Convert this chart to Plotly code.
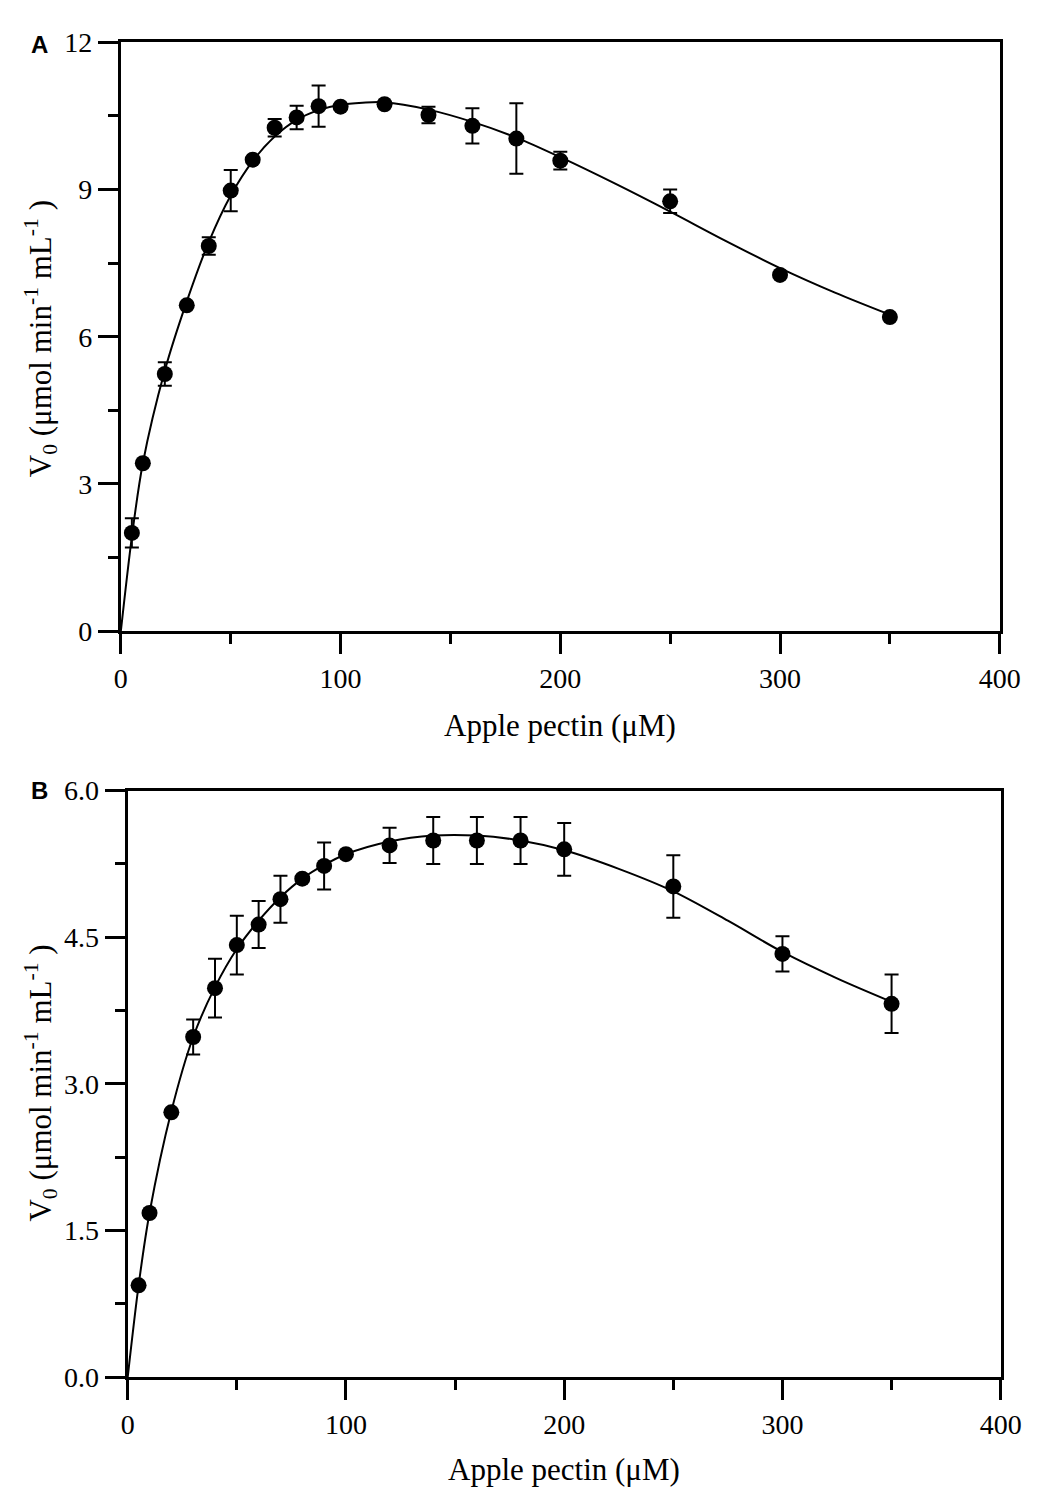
import plotly.graph_objects as go

# ---------------- data ----------------
conc = [5, 10, 20, 30, 40, 50, 60, 70, 80, 90, 100, 120, 140, 160, 180, 200, 250, 300, 350]

v_a = [2.00, 3.42, 5.24, 6.64, 7.85, 8.98, 9.61, 10.26, 10.47, 10.70, 10.69, 10.74,
       10.52, 10.30, 10.04, 9.59, 8.76, 7.26, 6.40]
sd_a = [0.30, 0.0, 0.24, 0.0, 0.18, 0.42, 0.0, 0.18, 0.24, 0.42, 0.0, 0.0,
        0.17, 0.36, 0.72, 0.18, 0.24, 0.0, 0.0]

v_b = [0.94, 1.68, 2.71, 3.48, 3.98, 4.42, 4.63, 4.89, 5.10, 5.23, 5.35, 5.44,
       5.49, 5.49, 5.49, 5.40, 5.02, 4.33, 3.82]
sd_b = [0.0, 0.0, 0.0, 0.18, 0.30, 0.30, 0.24, 0.24, 0.0, 0.24, 0.0, 0.18,
        0.24, 0.24, 0.24, 0.27, 0.32, 0.18, 0.30]

# fitted (non-linear regression) curves
fit_x_a = [0, 5, 10, 20, 30, 40, 50, 60, 70, 80, 90, 100, 110, 120, 140, 160, 180, 200,
           225, 250, 275, 300, 325, 350]
fit_y_a = [0, 1.92, 3.42, 5.31, 6.72, 7.93, 8.88, 9.58, 10.08, 10.42, 10.62, 10.73, 10.77,
           10.78, 10.63, 10.38, 10.06, 9.66, 9.12, 8.55, 7.96, 7.40, 6.90, 6.45]
fit_x_b = [0, 5, 10, 20, 30, 40, 50, 60, 70, 80, 90, 100, 120, 140, 160, 180, 200,
           225, 250, 275, 300, 325, 350]
fit_y_b = [0, 0.94, 1.68, 2.72, 3.48, 3.99, 4.38, 4.67, 4.91, 5.10, 5.24, 5.35, 5.48,
           5.54, 5.54, 5.49, 5.39, 5.20, 4.97, 4.67, 4.35, 4.08, 3.84]

x_ticks = [0, 100, 200, 300, 400]
y_ticks_a = [0, 3, 6, 9, 12]
y_ticks_a_text = ["0", "3", "6", "9", "12"]
y_ticks_b = [0, 1.5, 3.0, 4.5, 6.0]
y_ticks_b_text = ["0.0", "1.5", "3.0", "4.5", "6.0"]

x_title = "Apple pectin (μM)"
y_title = "V<sub>0</sub> (μmol min<sup>-1</sup> mL<sup>-1</sup> )"

# ---------------- figure ----------------
W, H = 1047, 1501
FONT = "Liberation Serif, Times New Roman, serif"

fig = go.Figure()

for xa, ya, v, sd, fx, fy in [("x", "y", v_a, sd_a, fit_x_a, fit_y_a),
                              ("x2", "y2", v_b, sd_b, fit_x_b, fit_y_b)]:
    fig.add_trace(go.Scatter(x=fx, y=fy, mode="lines",
                             line=dict(color="black", width=2, shape="spline", smoothing=0.9),
                             xaxis=xa, yaxis=ya, showlegend=False, hoverinfo="skip"))
    fig.add_trace(go.Scatter(x=conc, y=v, mode="markers",
                             marker=dict(color="black", size=16),
                             error_y=dict(type="data", array=sd, visible=True,
                                          color="black", thickness=2, width=7),
                             xaxis=xa, yaxis=ya, showlegend=False))


def px_x(p):
    return p / W


def px_y(p):
    return 1 - p / H


common_x = dict(range=[0, 400], tickvals=x_ticks, ticks="outside", ticklen=20, tickwidth=3,
                tickcolor="black", linecolor="black", linewidth=3, mirror=True,
                showgrid=False, zeroline=False,
                tickfont=dict(family=FONT, size=28, color="black"),
                minor=dict(ticks="outside", ticklen=10, tickwidth=3, tickcolor="black",
                           dtick=50, tick0=0, showgrid=False))
common_y = dict(ticks="outside", ticklen=20, tickwidth=3,
                tickcolor="black", linecolor="black", linewidth=3, mirror=True,
                showgrid=False, zeroline=False,
                tickfont=dict(family=FONT, size=28, color="black"))

fig.update_layout(
    width=W, height=H,
    margin=dict(l=0, r=0, t=0, b=0),
    paper_bgcolor="white", plot_bgcolor="white",
    xaxis=dict(common_x, domain=[px_x(117), px_x(1020)], anchor="y"),
    yaxis=dict(common_y, domain=[px_y(629), px_y(28)], anchor="x", range=[0, 12],
               tickvals=y_ticks_a, ticktext=y_ticks_a_text,
               minor=dict(ticks="outside", ticklen=10, tickwidth=3, tickcolor="black",
                          dtick=1.5, tick0=0, showgrid=False)),
    xaxis2=dict(common_x, domain=[px_x(124), px_x(1021)], anchor="y2"),
    yaxis2=dict(common_y, domain=[px_y(1391), px_y(792)], anchor="x2", range=[0, 6],
                tickvals=y_ticks_b, ticktext=y_ticks_b_text,
                minor=dict(ticks="outside", ticklen=10, tickwidth=3, tickcolor="black",
                           dtick=0.75, tick0=0, showgrid=False)),
)

ann = []
for (ycen, xlab_y, xc) in [(331, 725, 568), (1091, 1485, 572)]:
    ann.append(dict(text=y_title, x=px_x(35), y=px_y(ycen), xref="paper", yref="paper",
                    textangle=-90, showarrow=False, xanchor="center", yanchor="middle",
                    font=dict(family=FONT, size=31, color="black")))
    ann.append(dict(text=x_title, x=px_x(xc), y=px_y(xlab_y), xref="paper", yref="paper",
                    showarrow=False, xanchor="center", yanchor="middle",
                    font=dict(family=FONT, size=31, color="black")))
for letter, ly in [("A", 30), ("B", 792)]:
    ann.append(dict(text="<b>" + letter + "</b>", x=px_x(33), y=px_y(ly),
                    xref="paper", yref="paper",
                    showarrow=False, xanchor="center", yanchor="middle",
                    font=dict(family="Liberation Sans, Arial, sans-serif", size=24,
                              color="black")))
fig.update_layout(annotations=ann)

fig.write_html("out.html")
